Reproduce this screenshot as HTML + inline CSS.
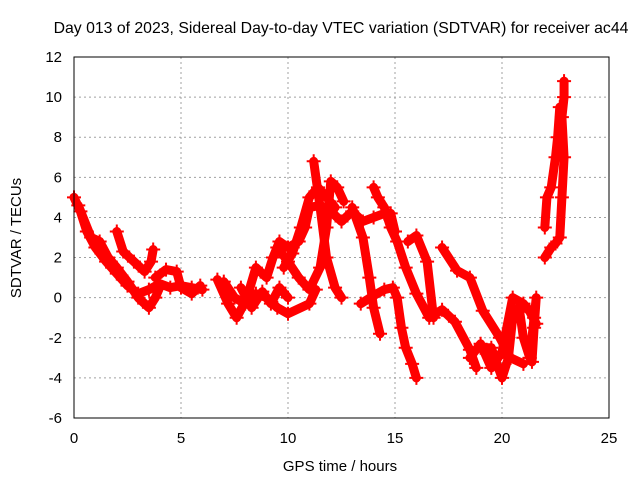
<!DOCTYPE html>
<html><head><meta charset="utf-8"><style>
body{margin:0;background:#fff}
svg{display:block;font-family:"Liberation Sans",sans-serif}
</style></head><body>
<svg id="chart" width="640" height="480">
<rect width="640" height="480" fill="#fff"/>
<text x="341" y="33" text-anchor="middle" font-size="15.8">Day 013 of 2023, Sidereal Day-to-day VTEC variation (SDTVAR) for receiver ac44</text>
<text x="340" y="471" text-anchor="middle" font-size="15">GPS time / hours</text>
<text transform="translate(21,238) rotate(-90)" text-anchor="middle" font-size="15">SDTVAR / TECUs</text>
<g id="grid"></g><g id="ticks"></g><g id="marks"></g>
<rect x="74" y="57" width="535" height="361" fill="none" stroke="#000" stroke-width="1"/>
</svg>
<script>
const xTicks=[0,5,10,15,20,25];
const yTicks=[-6,-4,-2,0,2,4,6,8,10,12];
const track1=[[0,5],[0.3,4.3],[0.6,3.3],[1,2.5],[1.5,1.8],[2,1.2],[2.5,0.6],[3,0.2],[3.5,0.4],[4,0.7],[4.5,0.5],[5,0.6],[5.5,0.5],[6,0.4]];
const track2=[[0.2,4.6],[0.8,3],[1.2,2.8],[1.6,2],[2,1.5],[2.5,0.8],[3,0],[3.5,-0.5],[3.8,0],[4,0.5]];
const track3=[[2,3.3],[2.3,2.3],[2.8,1.8],[3.3,1.3],[3.6,1.8],[3.7,2.4]];
const track4=[[3.8,1.0],[4.3,1.4],[4.8,1.3],[5,0.5],[5.5,0.2],[5.9,0.6]];
const track5=[[6.7,0.9],[7.2,-0.3],[7.6,-1],[8,-0.2],[8.5,0.2],[9,0],[9.5,-0.5],[10,-0.8],[11,-0.3],[11.3,0.4]];
const track6=[[7,0.8],[7.5,0],[8,-0.3],[8.5,1.5],[9,1],[9.3,2],[9.6,2.8],[10,2.5],[10.5,2.8],[10.8,3.5],[11,4.5],[11.5,4.6],[12,4.3],[12.5,3.8],[13,4.3],[13.5,3.8],[14,4],[14.5,4.2],[14.8,4.2],[15,3.3]];
const track7=[[11.2,6.8],[11.5,4.5],[11.8,2],[12.2,0.5],[12.5,0]];
const track8=[[9.5,2.5],[10,1.8],[10.5,1],[11,0.4],[11.5,1.5],[11.8,3.5],[12,5.8],[12.3,5.5],[12.6,4.8]];
const track9=[[13,4.5],[13.5,3],[13.8,1],[14,-0.5],[14.3,-1.8]];
const track10=[[13.4,-0.3],[14,0.1],[14.5,0.4],[14.9,0.5],[15.1,0],[15.3,-1.5],[15.5,-2.5],[15.8,-3.3],[16,-4]];
const track11=[[14,5.5],[14.2,5],[14.5,4.5],[14.8,3.5],[15.1,2.8],[15.5,1.5],[16,0.2],[16.6,-1],[17.2,-0.6],[17.8,-1.2],[18.5,-2.6],[18.8,-3.5]];
const track12=[[15.6,2.8],[16,3.1],[16.5,1.8],[16.8,-1]];
const track13=[[17.2,2.5],[17.9,1.35],[18.5,1.0],[19.1,-0.65],[19.9,-2],[20.4,-3],[21,-3.3]];
const track14=[[19,-2.5],[19.5,-2.5],[20,-4],[20.3,-3],[20.5,-1],[20.8,-0.5],[21,-2],[21.3,-3],[21.5,-1],[21.6,0],[21.5,-1.5],[21.4,-3.2]];
const track15=[[18.5,-3],[19,-2.3],[19.5,-3.5],[20,-2.7],[20.5,0],[21,-0.3],[21.3,-0.7],[21.6,-1.3]];
const track16=[[22,2],[22.3,2.5],[22.5,2.7],[22.7,3],[22.8,5],[22.9,7],[22.8,9],[22.9,10],[22.9,10.8]];
const track17=[[22,3.5],[22.1,5],[22.3,5.5],[22.5,7],[22.6,8],[22.7,9.5]];
const track18=[[9.8,1.5],[10.2,2.2],[10.6,3.5],[11,5],[11.4,5.5],[11.8,5],[12.2,4.5]];
const track19=[[7.8,0.5],[8.3,-0.5],[8.8,0.3],[9.2,-0.3],[9.6,0.5],[10,0]];
const tracks=[track1,track2,track3,track4,track5,track6,track7,track8,track9,track10,track11,track12,track13,track14,track15,track16,track17,track18,track19];
const NS='http://www.w3.org/2000/svg';
function xs(h){return 74+h*(535/25);}
function ys(v){return 418-(v+6)*(361/18);}
const grid=document.getElementById('grid'),ticks=document.getElementById('ticks'),marks=document.getElementById('marks');
function mk(t,a,p){const e=document.createElementNS(NS,t);for(const k in a)e.setAttribute(k,a[k]);p.appendChild(e);return e;}
xTicks.forEach(t=>{
  const x=xs(t);
  if(t>0&&t<25){const g=mk('line',{x1:x,x2:x,y1:57,y2:418,stroke:'#a0a0a0','stroke-dasharray':'2,3'},grid);
  
  }
  const l=mk('text',{x:x,y:443,'text-anchor':'middle','font-size':'15'},ticks);l.textContent=t;
  
  
});
yTicks.forEach(t=>{
  const y=ys(t);
  if(t>-6&&t<12){const g=mk('line',{x1:74,x2:609,y1:y,y2:y,stroke:'#a0a0a0','stroke-dasharray':'2,3'},grid);
  
  }
  const l=mk('text',{x:62,y:y+5,'text-anchor':'end','font-size':'15'},ticks);l.textContent=t;
  
  
});
tracks.forEach((tr,i)=>{
  const pl=mk('polyline',{points:tr.map(p=>xs(p[0])+','+ys(p[1])).join(' '),fill:'none',stroke:'#f00','stroke-width':'9','stroke-linejoin':'round','stroke-linecap':'round'},marks);
  
  
  tr.forEach(p=>{
    const x=xs(p[0]),y=ys(p[1]);
    const m=mk('path',{d:`M${x-7},${y}H${x+7}M${x},${y-7}V${y+7}`,stroke:'#f00','stroke-width':'2'},marks);
    
    
  });
});
</script>
</body></html>
